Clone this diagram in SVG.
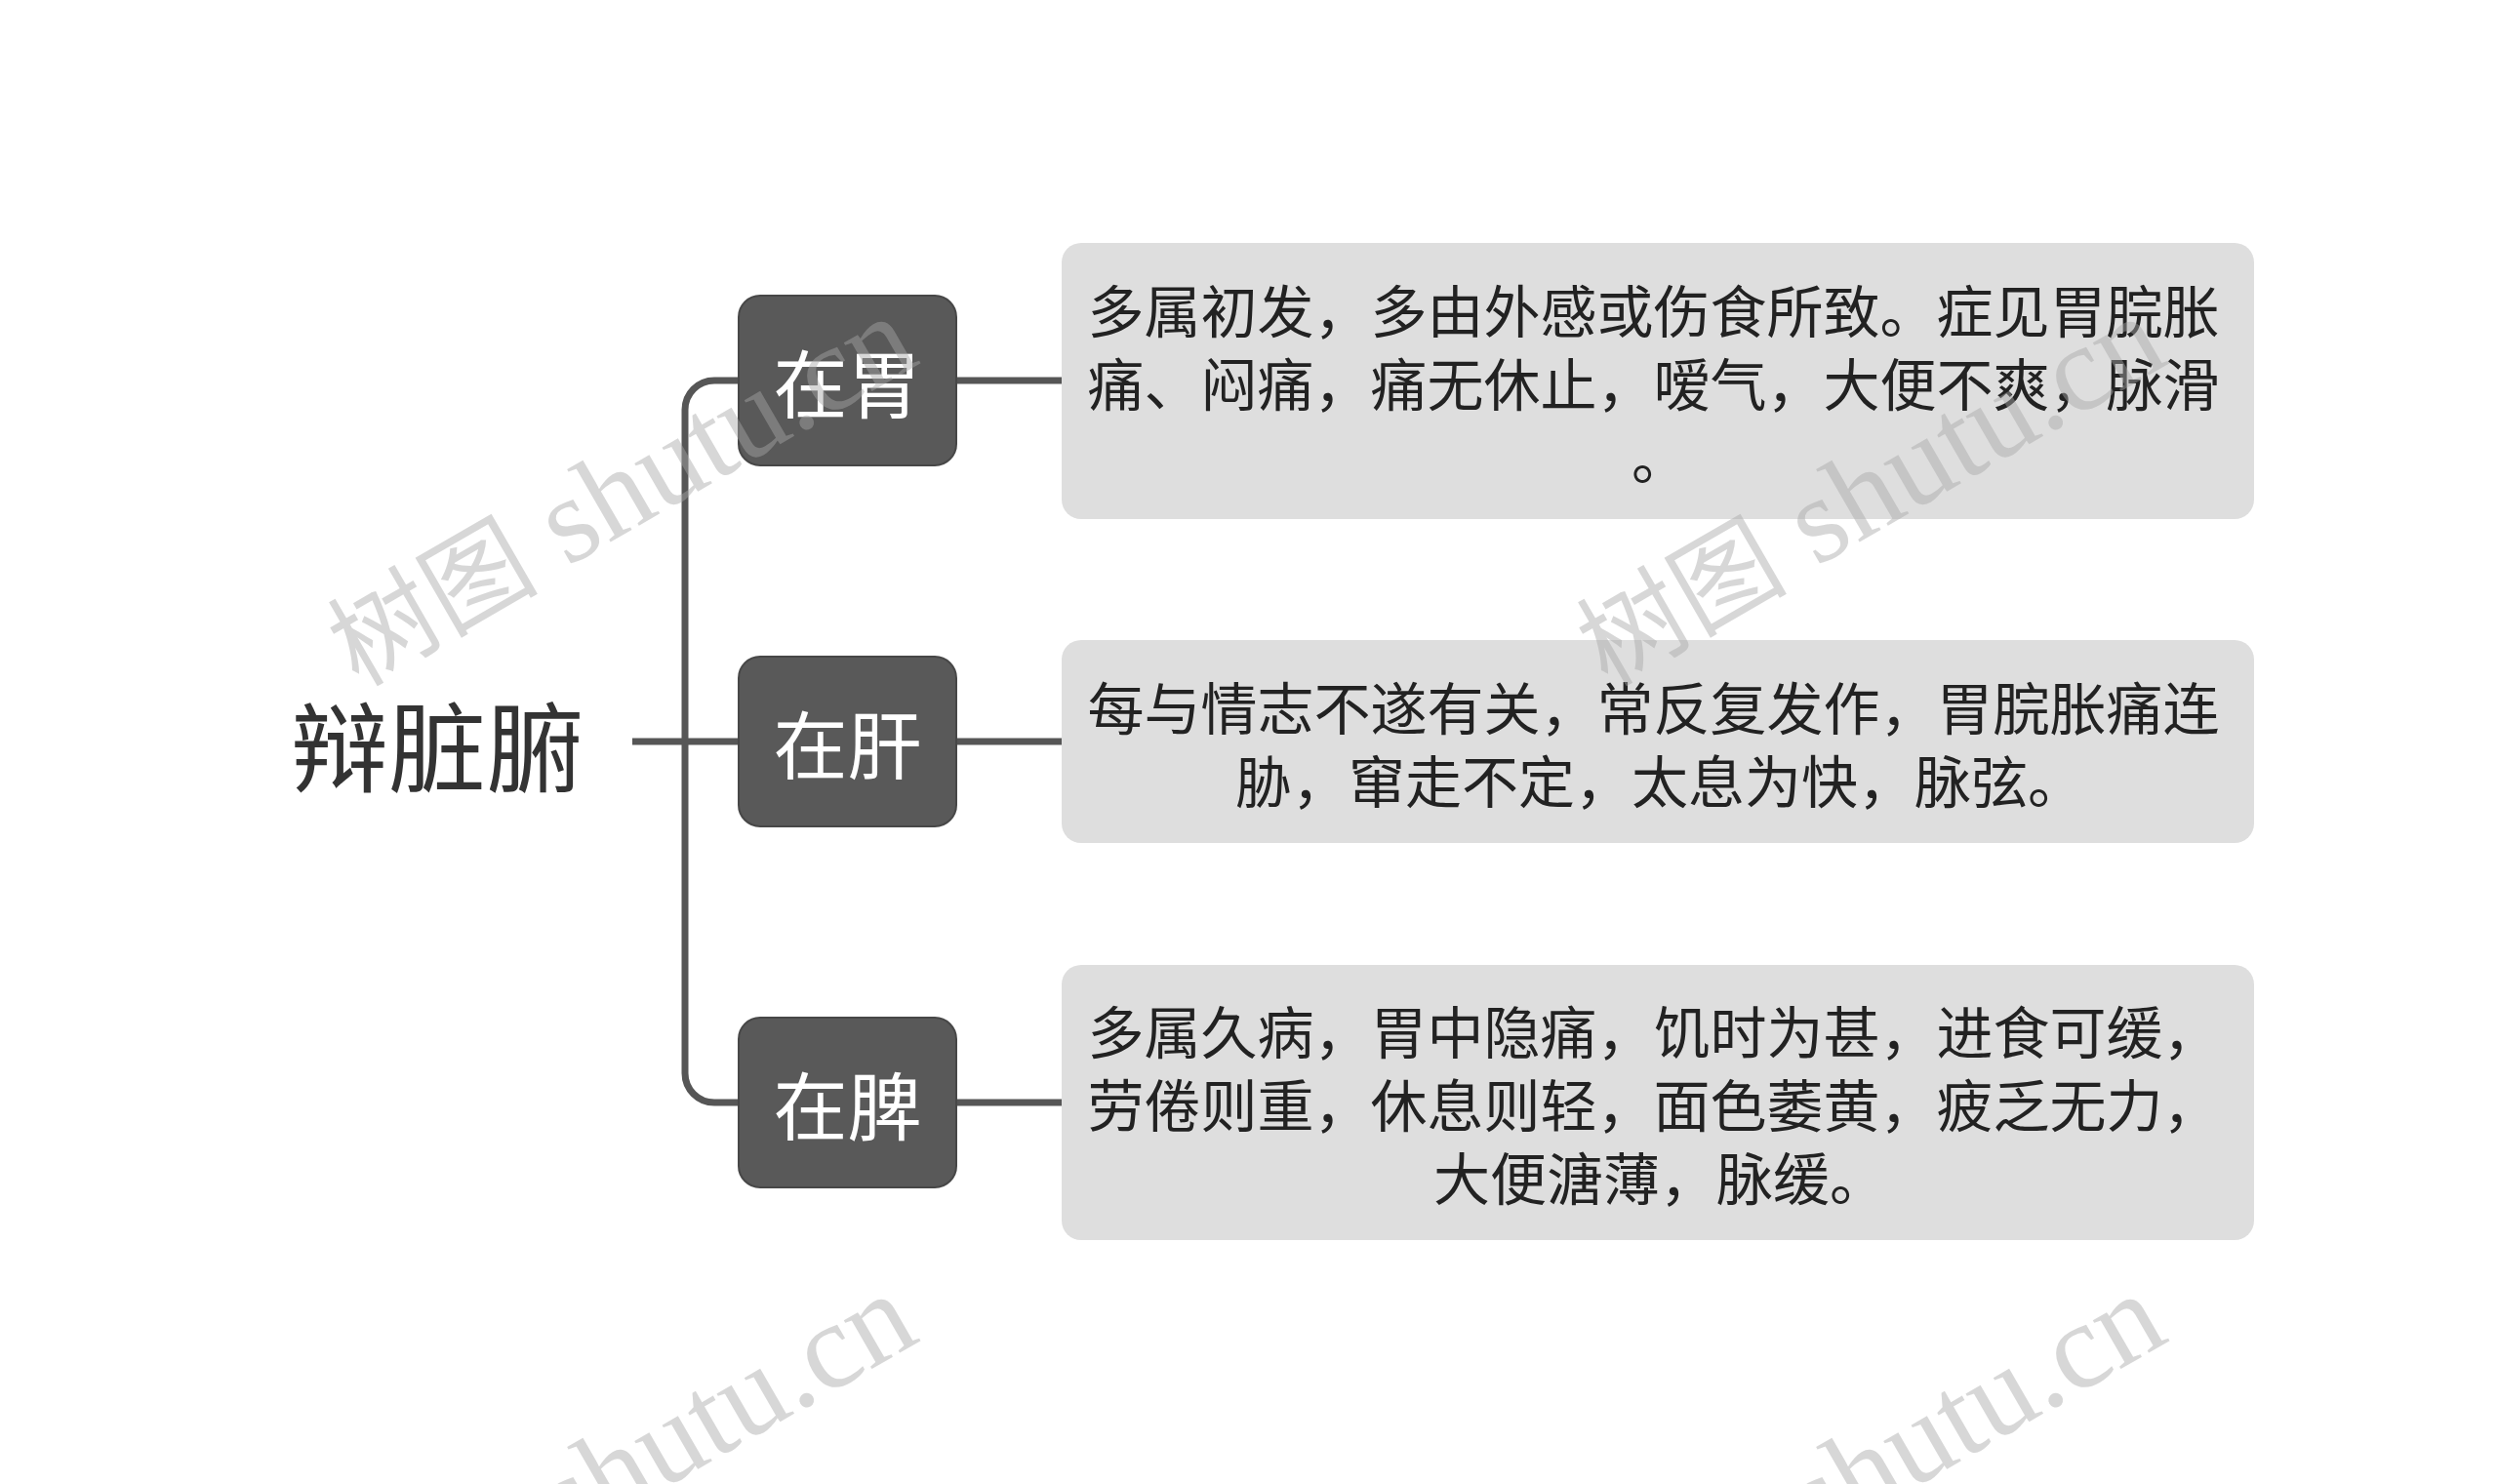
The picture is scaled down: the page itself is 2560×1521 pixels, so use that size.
<svg xmlns="http://www.w3.org/2000/svg" width="2560" height="1521" viewBox="0 0 2560 1521">
<style>
.cjk{font-family:"Noto Sans CJK SC","Noto Sans",sans-serif;}
.root{font-size:100px;fill:#333333;}
.node rect{fill:#595959;stroke:#474747;stroke-width:2;}
.node text{font-size:76px;fill:#ffffff;}
.leaf rect{fill:#dedede;}
.leaf text{font-size:58px;fill:#222222;}
.conn{fill:none;stroke:#565656;stroke-width:7;}
.wm{font-family:"Liberation Serif","Noto Sans CJK SC",serif;font-size:125px;fill:#a8a8a8;opacity:0.45;}
.wm .zh{font-family:"Noto Sans CJK SC",serif;font-size:108px;}
</style>
<rect width="2560" height="1521" fill="#ffffff"/>
<g id="connectors">
<path class="conn" d="M648 760 H757"/>
<path class="conn" d="M757 390 H732 A30 30 0 0 0 702 420 V1100 A30 30 0 0 0 732 1130 H757"/>
<path class="conn" d="M980 390 H1088"/>
<path class="conn" d="M980 760 H1088"/>
<path class="conn" d="M980 1130 H1088"/>
</g>
<g id="root">
<text class="cjk root" x="448" y="760" text-anchor="middle" dominant-baseline="central">辩脏腑</text>
</g>
<g id="node-wei" class="node">
<rect x="757" y="303" width="223" height="174" rx="22"/>
<text class="cjk" x="868.5" y="390" text-anchor="middle" dominant-baseline="central">在胃</text>
</g>
<g id="node-gan" class="node">
<rect x="757" y="673" width="223" height="174" rx="22"/>
<text class="cjk" x="868.5" y="760" text-anchor="middle" dominant-baseline="central">在肝</text>
</g>
<g id="node-pi" class="node">
<rect x="757" y="1043" width="223" height="174" rx="22"/>
<text class="cjk" x="868.5" y="1130" text-anchor="middle" dominant-baseline="central">在脾</text>
</g>
<g id="leaf-wei" class="leaf">
<rect x="1088" y="249" width="1222" height="283" rx="20"/>
<text class="cjk" text-anchor="middle" dominant-baseline="central">
<tspan x="1701" y="316">多属初发，多由外感或伤食所致。症见胃脘胀</tspan>
<tspan x="1701" y="391">痛、闷痛，痛无休止，嗳气，大便不爽，脉滑</tspan>
<tspan x="1701" y="466">。</tspan>
</text>
</g>
<g id="leaf-gan" class="leaf">
<rect x="1088" y="656" width="1222" height="208" rx="20"/>
<text class="cjk" text-anchor="middle" dominant-baseline="central">
<tspan x="1701" y="722.5">每与情志不遂有关，常反复发作，胃脘胀痛连</tspan>
<tspan x="1701" y="797.5">胁，窜走不定，太息为快，脉弦。</tspan>
</text>
</g>
<g id="leaf-pi" class="leaf">
<rect x="1088" y="989" width="1222" height="282" rx="20"/>
<text class="cjk" text-anchor="middle" dominant-baseline="central">
<tspan x="1701" y="1055">多属久病，胃中隐痛，饥时为甚，进食可缓，</tspan>
<tspan x="1701" y="1130">劳倦则重，休息则轻，面色萎黄，疲乏无力，</tspan>
<tspan x="1701" y="1205">大便溏薄，脉缓。</tspan>
</text>
</g>
<g id="watermarks">
<text class="wm" transform="translate(828 433) rotate(-30)" x="-535" y="5"><tspan class="zh">树图</tspan> shutu.cn</text>
<text class="wm" transform="translate(2108 433) rotate(-30)" x="-535" y="5"><tspan class="zh">树图</tspan> shutu.cn</text>
<text class="wm" transform="translate(828 1435) rotate(-30)" x="-535" y="5"><tspan class="zh">树图</tspan> shutu.cn</text>
<text class="wm" transform="translate(2108 1435) rotate(-30)" x="-535" y="5"><tspan class="zh">树图</tspan> shutu.cn</text>
</g>
</svg>
